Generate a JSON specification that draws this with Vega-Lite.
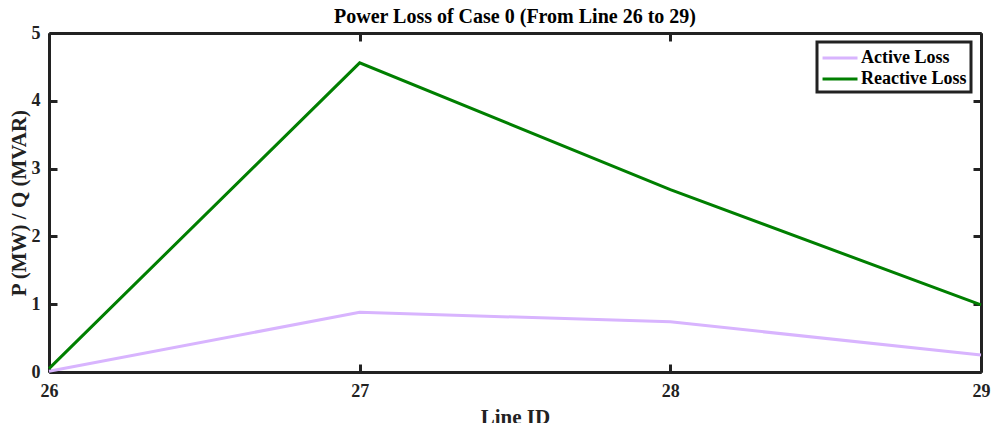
{
  "$schema": "https://vega.github.io/schema/vega-lite/v6.json",
  "width": 932,
  "height": 339,
  "autosize": {"type": "none"},
  "padding": {"left": 49, "top": 33, "right": 10, "bottom": 51},
  "background": "white",
  "title": {
    "text": "Power Loss of Case 0 (From Line 26 to 29)",
    "font": "Liberation Serif",
    "fontSize": 20,
    "fontWeight": "bold",
    "color": "black",
    "anchor": "middle",
    "offset": -3
  },
  "config": {
    "view": {"stroke": null},
    "axis": {
      "domainColor": "#222222",
      "domainWidth": 3,
      "tickColor": "#222222",
      "tickWidth": 3,
      "tickSize": -8,
      "grid": false,
      "labelFont": "Liberation Serif",
      "labelFontSize": 18,
      "labelFontWeight": "bold",
      "labelColor": "#222222",
      "labelFlush": false,
      "titleFont": "Liberation Serif",
      "titleFontSize": 21,
      "titleFontWeight": "bold",
      "titleColor": "#222222"
    }
  },
  "data": {
    "values": [
      {"line": 26, "loss": 0.01, "type": "Active Loss"},
      {"line": 27, "loss": 0.88, "type": "Active Loss"},
      {"line": 28, "loss": 0.74, "type": "Active Loss"},
      {"line": 29, "loss": 0.25, "type": "Active Loss"},
      {"line": 26, "loss": 0.05, "type": "Reactive Loss"},
      {"line": 27, "loss": 4.56, "type": "Reactive Loss"},
      {"line": 28, "loss": 2.69, "type": "Reactive Loss"},
      {"line": 29, "loss": 0.99, "type": "Reactive Loss"}
    ]
  },
  "layer": [
    {
      "mark": {"type": "line", "strokeWidth": 3},
      "encoding": {
        "x": {
          "field": "line", "type": "quantitative",
          "scale": {"domain": [26, 29], "nice": false, "zero": false},
          "axis": {"orient": "bottom", "values": [26, 27, 28, 29], "format": "d", "title": "Line ID", "labelPadding": 18, "titlePadding": 6, "titleFontSize": 21}
        },
        "y": {
          "field": "loss", "type": "quantitative",
          "scale": {"domain": [0, 5], "nice": false},
          "axis": {"orient": "left", "values": [0, 1, 2, 3, 4, 5], "title": "P (MW) / Q (MVAR)", "labelPadding": 17, "titlePadding": 2}
        },
        "color": {
          "field": "type", "type": "nominal",
          "scale": {"domain": ["Active Loss", "Reactive Loss"], "range": ["#D8B4FE", "#007F00"]},
          "legend": {
            "title": null,
            "orient": "none",
            "legendX": 768,
            "legendY": 9,
            "symbolType": "M-2.33,0H1",
            "symbolStrokeWidth": 3,
            "symbolSize": 441,
            "symbolOffset": 14,
            "labelFont": "Liberation Serif",
            "labelFontSize": 18,
            "labelFontWeight": "bold",
            "labelColor": "black",
            "labelOffset": 2,
            "rowPadding": 0,
            "padding": 4,
            "strokeColor": "#222222",
            "fillColor": "white",
            "encode": {"legend": {"update": {"strokeWidth": {"value": 3}}}}
          }
        }
      }
    },
    {
      "mark": {"type": "line", "strokeOpacity": 0},
      "encoding": {
        "x": {
          "field": "line", "type": "quantitative",
          "scale": {"domain": [26, 29], "nice": false, "zero": false},
          "axis": {"orient": "top", "values": [26, 27, 28, 29], "labels": false, "title": null}
        },
        "y": {
          "field": "loss", "type": "quantitative",
          "scale": {"domain": [0, 5], "nice": false},
          "axis": {"orient": "right", "values": [0, 1, 2, 3, 4, 5], "labels": false, "title": null}
        },
        "detail": {"field": "type"}
      }
    }
  ],
  "resolve": {"axis": {"x": "independent", "y": "independent"}}
}
